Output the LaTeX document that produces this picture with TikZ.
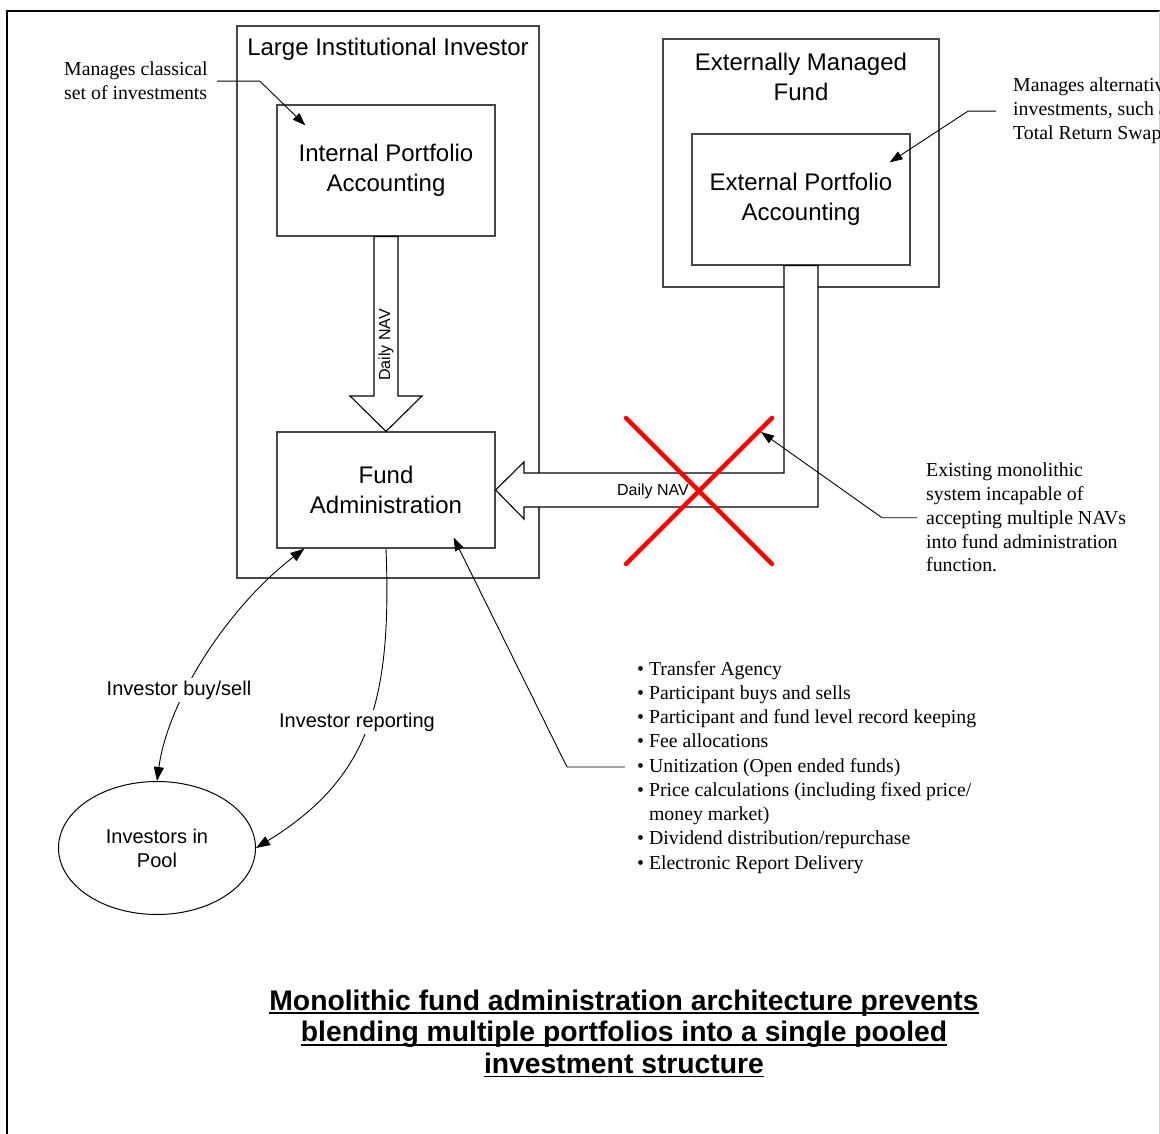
\documentclass[tikz,border=0pt]{standalone}
\usepackage{fontspec}
\setmainfont{Liberation Sans}
\newfontfamily\seriffont{Liberation Serif}
\usetikzlibrary{arrows.meta,shapes.geometric}
\newcommand\myunder[1]{\setbox0\hbox{#1}\rlap{\rule[-3.8pt]{\wd0}{1.9pt}}\box0}
\begin{document}
\begin{tikzpicture}[x=1pt,y=-1pt,
  boxline/.style={draw=black!72, line width=1.2pt},
  bigbox/.style={boxline, rectangle, inner sep=0pt},
  boxtxt/.style={font=\fontsize{24}{29.5}\selectfont, align=center},
  lbltxt/.style={font=\fontsize{20}{24}\selectfont, align=center, inner sep=2.5pt},
  navtxt/.style={font=\fontsize{16}{19}\selectfont, inner sep=1pt},
  notetxt/.style={font=\seriffont\fontsize{19.8}{24}\selectfont, align=left, inner sep=0pt, anchor=north west},
  blockarrow/.style={draw=black, fill=white, line width=1.1pt, line join=miter},
  thinarrow/.style={draw=black, line width=0.9pt},
  tip/.style={-{Triangle[length=13pt,width=9pt]}},
  redx/.style={draw=red, line width=4.5pt, line cap=round},
]
\useasboundingbox (0,0) rectangle (1160,1134);
\clip (0,0) rectangle (1160,1134);

% outer frame
\draw[line width=2pt] (7,1134) -- (7,11.5) -- (1160,11.5);
\draw[black!18, line width=1pt] (1159,11.5) -- (1159,1134);

% containers
\node[bigbox, minimum width=302pt, minimum height=552pt] (lii) at (388,302) {};
\node[boxtxt, inner sep=0pt] (liit) at (388,49) {Large Institutional Investor};
\node[bigbox, minimum width=276pt, minimum height=248pt] (emf) at (801,163) {};
\node[boxtxt, inner sep=0pt] (emft) at (801,77) {Externally Managed\\Fund};

% inner boxes
\node[bigbox, boxtxt, minimum width=218pt, minimum height=131pt] (ipa) at (386,170.5) {Internal Portfolio\\Accounting};
\node[bigbox, boxtxt, minimum width=218pt, minimum height=116pt] (fa) at (386,490) {Fund\\Administration};
\node[bigbox, boxtxt, minimum width=218pt, minimum height=131pt] (epa) at (801,199.5) {External Portfolio\\Accounting};

% investors ellipse
\node[ellipse, draw=black, line width=1pt, minimum width=197pt, minimum height=133pt,
      font=\fontsize{20}{24}\selectfont, align=center] (pool) at (157,848) {Investors in\\Pool};

% block arrow: internal -> fund admin
\draw[blockarrow] ([xshift=-12pt]ipa.south) -- (374,396) -- (350,396) -- (fa.north)
   -- (422,396) -- (398,396) -- ([xshift=12pt]ipa.south) -- cycle;
\node[navtxt, rotate=90] (nav1) at (386,345) {Daily NAV};

% block arrow: external -> fund admin (L shape)
\draw[blockarrow] (fa.east) -- (524,462) -- (524,473) -- (784,473)
   -- ([xshift=-17pt]epa.south) -- ([xshift=17pt]epa.south) -- (818,507)
   -- (524,507) -- (524,519) -- cycle;
\node[navtxt] (nav2) at (653,491) {Daily NAV};

% red cross
\draw[redx] (626,418) -- (772,564);
\draw[redx] (772,418) -- (626,564);
\coordinate (xtip) at (761,432);

% investor flows
\draw[thinarrow, {Triangle[length=14pt,width=10pt]}-{Triangle[length=14pt,width=10pt]}]
   ([xshift=28pt]fa.south west) .. controls (228,607) and (168,700) .. (pool.north);
\node[lbltxt, fill=white] (bs) at (179,690) {Investor buy/sell};
\draw[thinarrow, -{Triangle[length=14pt,width=10pt]}]
   (fa.south) .. controls (392,700) and (370,778) .. (pool.east);
\node[lbltxt, fill=white] (rep) at (357,722) {Investor reporting};

% callout: classical
\node[notetxt] (mc) at (64,62) {Manages classical\\set of investments};
\draw[thinarrow, tip] ([xshift=9pt]mc.east) -- ++(43,0) -- ([xshift=29pt,yshift=-21pt]ipa.north west);

% callout: alternative
\node[notetxt] (ma) at (1013,78) {Manages alternative\\investments, such as\\Total Return Swaps};
\draw[thinarrow, tip] ([xshift=-17pt]ma.west) -- ++(-28,0) -- ([xshift=-21pt,yshift=-29pt]epa.north east);

% callout: existing monolithic
\node[notetxt, font=\seriffont\fontsize{19.8}{23.75}\selectfont] (exist) at (926,463)
  {Existing monolithic\\system incapable of\\accepting multiple NAVs\\into fund administration\\function.};
\draw[thinarrow, tip] ([xshift=-9pt]exist.west) -- ++(-35,0) -- (xtip);

% callout: bullet list
\node[notetxt, font=\seriffont\fontsize{19.8}{24.25}\selectfont] (bul) at (637,661)
  {• Transfer Agency\\
   • Participant buys and sells\\
   • Participant and fund level record keeping\\
   • Fee allocations\\
   • Unitization (Open ended funds)\\
   • Price calculations (including fixed price/\\
   \hphantom{• }money market)\\
   • Dividend distribution/repurchase\\
   • Electronic Report Delivery};
\draw[thinarrow, tip] ([xshift=-12pt,yshift=-106pt]bul.north west) -- ++(-58,0)
   -- ([xshift=-42pt,yshift=11pt]fa.south east);

% title
\node[font=\bfseries\fontsize{28.3}{31.7}\selectfont, align=center, inner sep=0pt, anchor=north] (title) at (624,989.5)
  {\myunder{Monolithic fund administration architecture prevents}\\
   \myunder{blending multiple portfolios into a single pooled}\\
   \myunder{investment structure}};
\end{tikzpicture}
\end{document}
